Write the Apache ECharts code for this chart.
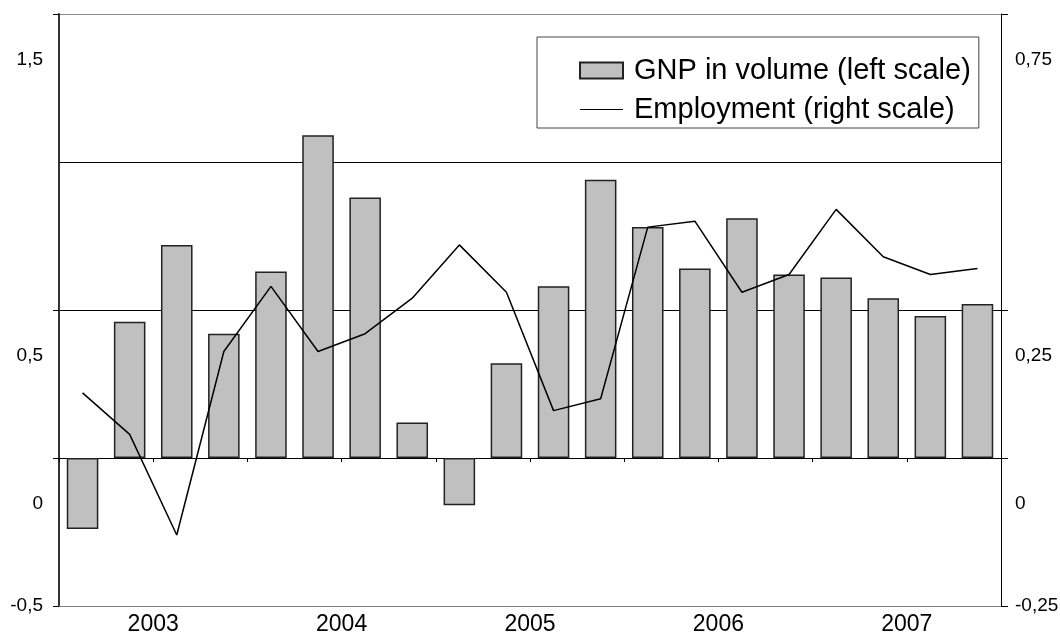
<!DOCTYPE html>
<html>
<head>
<meta charset="utf-8">
<title>GNP and employment</title>
<script src="https://cdn.jsdelivr.net/npm/echarts@6/dist/echarts.min.js"></script>
<style>
  html, body { margin: 0; padding: 0; background: #ffffff; }
  #chart { width: 1060px; height: 636px; }
</style>
</head>
<body>
<div id="chart"></div>
<script>
// Quarterly growth, 2003 Q1 - 2007 Q4
const years = ['2003', '2004', '2005', '2006', '2007'];
const quarters = ['Q1', 'Q2', 'Q3', 'Q4'];
const categories = [];
years.forEach(y => quarters.forEach(q => categories.push(y + ' ' + q)));

// GNP in volume, % (left scale)
const gnp = [-0.24, 0.46, 0.72, 0.42, 0.63, 1.09, 0.88, 0.12, -0.16, 0.32,
             0.58, 0.94, 0.78, 0.64, 0.81, 0.62, 0.61, 0.54, 0.48, 0.52];
// Employment, % (right scale)
const employment = [0.11, 0.04, -0.13, 0.18, 0.29, 0.18, 0.21, 0.27, 0.36, 0.28,
                    0.08, 0.10, 0.39, 0.40, 0.28, 0.31, 0.42, 0.34, 0.31, 0.32];

// Axis ranges
const leftTicks = [-0.5, 0, 0.5, 1, 1.5];
const rightTicks = [-0.25, 0, 0.25, 0.5, 0.75];

const FONT = "'Liberation Sans', Arial, sans-serif";
const fmt = v => String(v).replace('.', ',');
// Labels sit below their tick, except the lowest one
const shiftedLabel = min => v => (v === min ? fmt(v) : '\n' + fmt(v));

const chart = echarts.init(document.getElementById('chart'), null, { renderer: 'canvas' });

chart.setOption({
  animation: false,
  backgroundColor: '#ffffff',
  textStyle: { fontFamily: FONT, color: '#000' },
  grid: { left: 59, right: 59, top: 14, bottom: 30, containLabel: false, outerBoundsMode: 'none' },
  legend: {
    orient: 'vertical',
    left: 537,
    top: 37,
    padding: [19, 8, 4, 42],
    itemGap: 10,
    itemWidth: 43,
    itemHeight: 16,
    backgroundColor: '#ffffff',
    borderColor: '#444444',
    borderWidth: 1,
    borderRadius: 0,
    selectedMode: false,
    textStyle: { fontFamily: FONT, fontSize: 29, color: '#000', padding: [0, 0, 0, 6] },
    data: [
      { name: 'GNP in volume (left scale)', icon: 'rect' },
      { name: 'Employment (right scale)', icon: 'path://M0,0H86V2H0Z',
        itemStyle: { color: '#000', borderWidth: 0 } }
    ]
  },
  xAxis: [
    {
      type: 'category',
      data: categories,
      position: 'bottom',
      boundaryGap: true,
      axisLine: { show: true, onZero: true, onZeroAxisIndex: 0, lineStyle: { color: '#000', width: 1 } },
      axisTick: { show: true, length: 4, lineStyle: { color: '#000', width: 1 } },
      axisLabel: { show: false },
      splitLine: { show: false }
    },
    {
      type: 'category',
      data: years,
      position: 'bottom',
      boundaryGap: true,
      axisLine: { show: true, onZero: false, lineStyle: { color: '#808080', width: 1 } },
      axisTick: { show: false },
      axisLabel: { show: true, fontFamily: FONT, fontSize: 23, color: '#000', margin: 7 },
      splitLine: { show: false }
    }
  ],
  yAxis: [
    {
      type: 'value',
      position: 'left',
      min: leftTicks[0],
      max: leftTicks[leftTicks.length - 1],
      interval: 0.5,
      axisLine: { show: true, lineStyle: { color: '#333333', width: 2 } },
      axisTick: { show: true, length: 6, lineStyle: { color: '#000', width: 1 } },
      axisLabel: {
        show: true, showMinLabel: true, showMaxLabel: true,
        fontFamily: FONT, fontSize: 19, color: '#000', margin: 16,
        lineHeight: 92, formatter: shiftedLabel(leftTicks[0])
      },
      splitLine: {
        show: true,
        lineStyle: { color: ['#808080', '#000000', '#000000', '#000000', '#8c8c8c'], width: 1 }
      }
    },
    {
      type: 'value',
      position: 'right',
      min: rightTicks[0],
      max: rightTicks[rightTicks.length - 1],
      interval: 0.25,
      axisLine: { show: true, lineStyle: { color: '#000', width: 1 } },
      axisTick: { show: true, length: 7, lineStyle: { color: '#000', width: 1 } },
      axisLabel: {
        show: true, showMinLabel: true, showMaxLabel: true,
        fontFamily: FONT, fontSize: 19, color: '#000', margin: 14,
        lineHeight: 92, formatter: shiftedLabel(rightTicks[0])
      },
      splitLine: { show: false }
    }
  ],
  series: [
    {
      name: 'GNP in volume (left scale)',
      type: 'bar',
      xAxisIndex: 0,
      yAxisIndex: 0,
      data: gnp,
      barCategoryGap: '33%',
      itemStyle: { color: '#c0c0c0', borderColor: '#222222', borderWidth: 1.5 }
    },
    {
      name: 'Employment (right scale)',
      type: 'line',
      xAxisIndex: 0,
      yAxisIndex: 1,
      data: employment,
      symbol: 'none',
      showSymbol: false,
      lineStyle: { color: '#000', width: 1.5 },
      itemStyle: { color: '#000' }
    }
  ]
});
</script>
</body>
</html>
